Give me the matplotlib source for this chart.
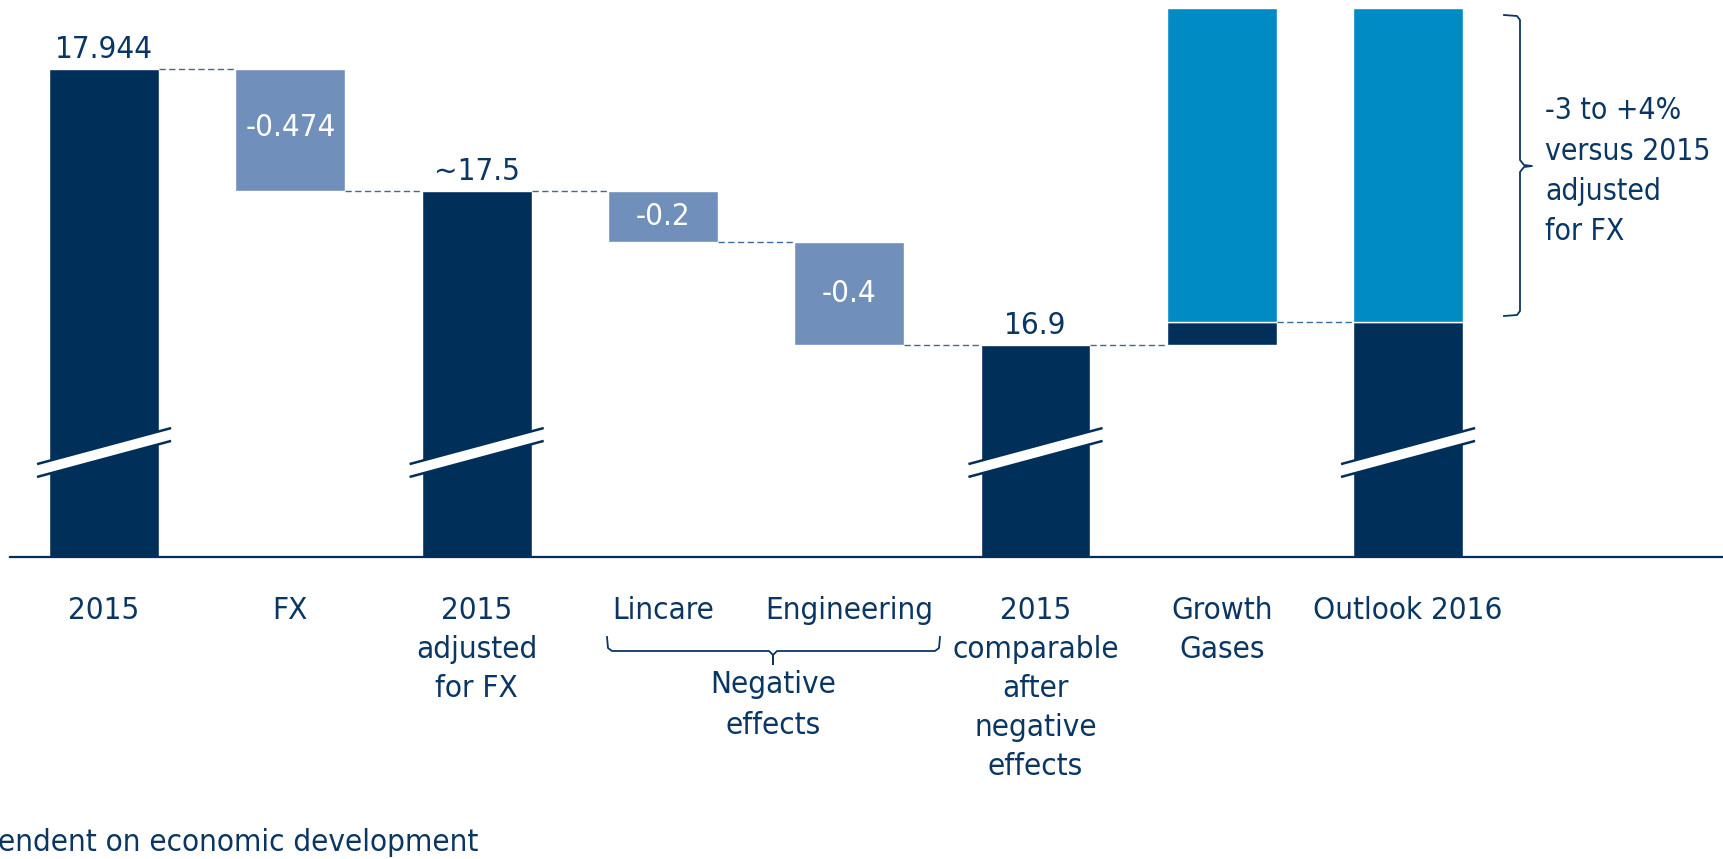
import matplotlib
matplotlib.use("Agg")
import matplotlib.pyplot as plt
from matplotlib.patches import Polygon
from matplotlib.lines import Line2D

plt.rcParams['font.family'] = ['DejaVu Sans']
plt.rcParams['font.stretch'] = 'condensed'

# data
categories = ["2015", "FX", "2015\nadjusted\nfor FX", "Lincare", "Engineering",
              "2015\ncomparable\nafter\nnegative\neffects", "Growth\nGases", "Outlook 2016"]
base_2015 = 17.944
fx_effect = -0.474
adj_2015 = 17.47
lincare = -0.2
engineering = -0.4
comparable = 16.87
outlook_low = 16.96
outlook_high = 18.18
value_labels = ["17.944", "-0.474", "~17.5", "-0.2", "-0.4", "16.9"]
brace_text = "-3 to +4%\nversus 2015\nadjusted\nfor FX"
group_text = "Negative\neffects"
footnote = "endent on economic development"

NAVY = "#00305a"
GREYBLUE = "#708fba"
LIGHTBLUE = "#008bc4"
TEXT = "#0a3663"
DASH = "#3f6a98"

W, H = 1724, 859
fig = plt.figure(figsize=(W / 100, H / 100), dpi=100)

# axes: left edge at 10px, baseline at 557px, top at 0px
ymin, ymax = 16.048, 18.212
ax = fig.add_axes([10 / W, (H - 557) / H, (W - 10) / W, 557 / H])
ax.set_xlim(-0.505, 8.696)
ax.set_ylim(ymin, ymax)
for s in ["top", "right", "left"]:
    ax.spines[s].set_visible(False)
ax.spines["bottom"].set_color(NAVY)
ax.spines["bottom"].set_linewidth(1.6)
ax.set_yticks([])

bw = 0.59
x = list(range(len(categories)))
kw = dict(width=bw, edgecolor="white", linewidth=1)

lincare_bot = adj_2015 + lincare
eng_bot = lincare_bot + engineering

ax.bar(x[0], base_2015 - ymin, bottom=ymin, color=NAVY, **kw)
ax.bar(x[1], -fx_effect, bottom=base_2015 + fx_effect, color=GREYBLUE, **kw)
ax.bar(x[2], adj_2015 - ymin, bottom=ymin, color=NAVY, **kw)
ax.bar(x[3], -lincare, bottom=lincare_bot, color=GREYBLUE, **kw)
ax.bar(x[4], -engineering, bottom=eng_bot, color=GREYBLUE, **kw)
ax.bar(x[5], comparable - ymin, bottom=ymin, color=NAVY, **kw)
ax.bar(x[6], outlook_low - comparable, bottom=comparable, color=NAVY, **kw)
ax.bar(x[6], outlook_high - outlook_low, bottom=outlook_low, color=LIGHTBLUE, **kw)
ax.bar(x[7], outlook_low - ymin, bottom=ymin, color=NAVY, **kw)
ax.bar(x[7], outlook_high - outlook_low, bottom=outlook_low, color=LIGHTBLUE, **kw)

# dashed connectors
levels = [base_2015, adj_2015, adj_2015, lincare_bot, eng_bot, comparable, outlook_low]
for i, lv in enumerate(levels):
    ax.plot([x[i] + bw / 2, x[i + 1] - bw / 2], [lv, lv], color=DASH,
            lw=1, ls=(0, (4.5, 2.5)))

# value labels
fs = 22.5
for xi, lv, t in [(x[0], base_2015, value_labels[0]),
                  (x[2], adj_2015, value_labels[2]),
                  (x[5], comparable, value_labels[5])]:
    ax.annotate(t, (xi, lv), xytext=(0, 8), textcoords="offset points",
                ha="center", va="baseline", fontsize=fs, color=TEXT)
ax.text(x[1], base_2015 + fx_effect / 2 + 0.01, value_labels[1], ha="center", va="center",
        fontsize=fs, color="white")
ax.text(x[3], adj_2015 + lincare / 2, value_labels[3], ha="center", va="center",
        fontsize=fs, color="white")
ax.text(x[4], lincare_bot + engineering / 2, value_labels[4], ha="center", va="center",
        fontsize=fs, color="white")

# axis break marks
bx = 0.36
for xi in [x[0], x[2], x[5], x[7]]:
    up = [(xi - bx, 16.409), (xi + bx, 16.549)]
    lo = [(xi - bx, 16.359), (xi + bx, 16.499)]
    ax.add_patch(Polygon([up[0], up[1], lo[1], lo[0]], closed=True,
                         facecolor="white", edgecolor="none", zorder=3))
    for ln in (up, lo):
        ax.plot([ln[0][0], ln[1][0]], [ln[0][1], ln[1][1]], color=NAVY, lw=1.8,
                zorder=4, solid_capstyle="butt")

# category labels
ax.set_xticks(x)
ax.set_xticklabels(categories, fontsize=fs, color=TEXT, linespacing=1.44)
ax.tick_params(axis="x", length=0, pad=28)


def px(xp, yp):
    return xp / W, 1 - yp / H


# bracket below Lincare / Engineering
pts = [(607, 637), (608, 648), (612, 651), (769, 651), (773, 655), (773, 664),
       (773, 655), (777, 651), (935, 651), (939, 648), (940, 637)]
fig.add_artist(Line2D([px(*p)[0] for p in pts], [px(*p)[1] for p in pts],
                      color=TEXT, lw=1.3))
fig.text(*px(773, 670), group_text, ha="center", va="top", fontsize=fs,
         color=TEXT, linespacing=1.5)

# brace on the right
pts = [(1504, 15), (1517, 16), (1520, 20), (1520, 160), (1524, 165), (1532, 166),
       (1524, 167), (1520, 172), (1520, 311), (1517, 315), (1504, 316)]
fig.add_artist(Line2D([px(*p)[0] for p in pts], [px(*p)[1] for p in pts],
                      color=TEXT, lw=1.3))
fig.text(*px(1545, 96), brace_text, ha="left", va="top", fontsize=21.5,
         color=TEXT, linespacing=1.5)

fig.text(*px(-2, 851), footnote, ha="left", va="baseline", fontsize=fs, color=TEXT)

fig.savefig("out.png", dpi=100)
